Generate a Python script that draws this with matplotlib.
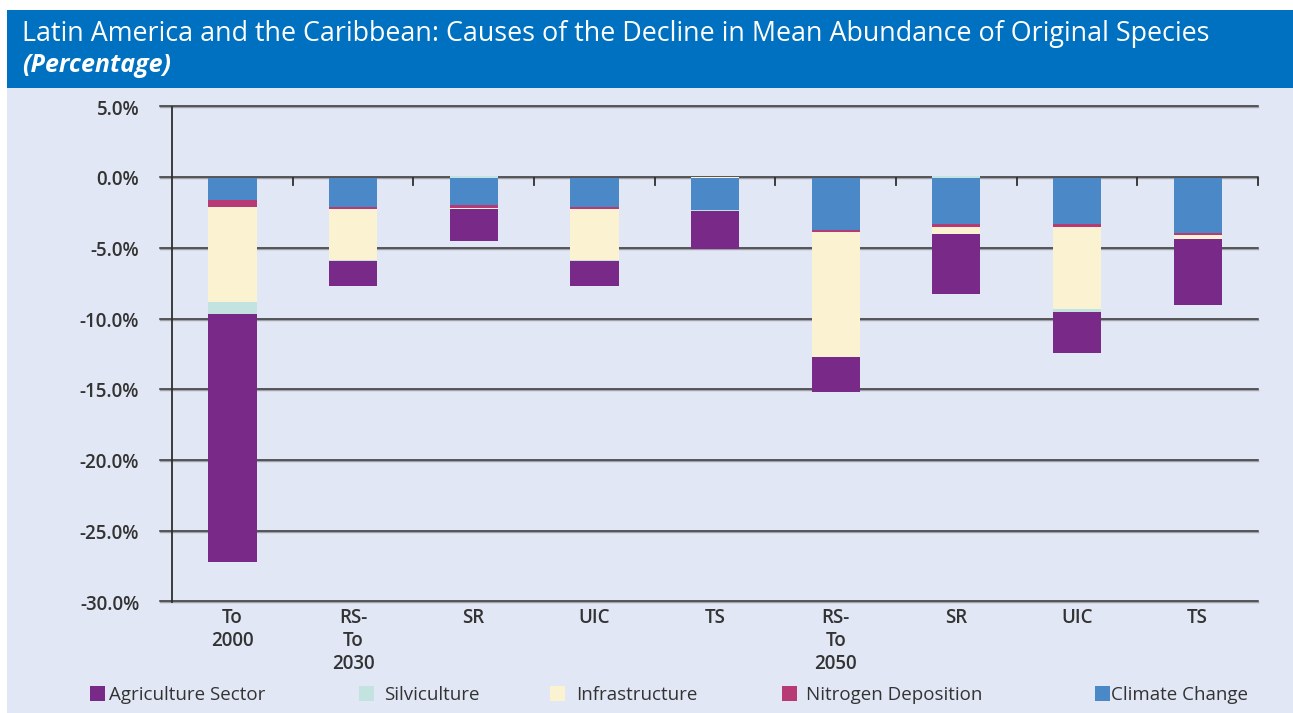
import matplotlib
matplotlib.use('Agg')
import matplotlib.pyplot as plt
from matplotlib.patches import Rectangle
import numpy as np

# Categories and causes of decline (percentage points, negative = loss)
categories = ['To\n2000', 'RS-\nTo\n2030', 'SR', 'UIC', 'TS', 'RS-\nTo\n2050', 'SR', 'UIC', 'TS']
climate_change = [-1.6, -2.05, -1.95, -2.05, -2.25, -3.7, -3.3, -3.25, -3.9]
nitrogen_deposition = [-0.5, -0.15, -0.2, -0.15, 0.0, -0.15, -0.2, -0.2, -0.15]
infrastructure = [-6.7, -3.6, -0.05, -3.6, 0.05, -8.85, -0.45, -5.85, -0.3]
silviculture = [-0.85, -0.1, 0.1, -0.1, -0.07, 0.0, 0.15, -0.2, 0.0]
agriculture = [-17.5, -1.75, -2.3, -1.75, -2.7, -2.45, -4.25, -2.9, -4.65]
y_ticks = [5, 0, -5, -10, -15, -20, -25, -30]

# stacking order from the zero line outwards
series = [
    ('Climate Change', climate_change, '#4a88c7'),
    ('Nitrogen Deposition', nitrogen_deposition, '#b83a74'),
    ('Infrastructure', infrastructure, '#faf2d0'),
    ('Silviculture', silviculture, '#c2e3e0'),
    ('Agriculture Sector', agriculture, '#792a89'),
]

BG = '#e1e7f4'
HEADER = '#0070c0'
TXT = '#333333'
FONT = 'Open Sans'
plt.rcParams['font.family'] = [FONT, 'DejaVu Sans']

W, H = 1293, 713
fig = plt.figure(figsize=(W / 100, H / 100), dpi=100)
fig.patch.set_facecolor('white')

# panel background and blue header band
fig.patches.append(Rectangle((7 / W, 0), 1 - 7 / W, 1 - 88 / H, transform=fig.transFigure,
                             facecolor=BG, edgecolor='none', zorder=-5))
fig.patches.append(Rectangle((7 / W, 1 - 88 / H), 1 - 7 / W, 78 / H, transform=fig.transFigure,
                             facecolor=HEADER, edgecolor='none', zorder=-5))
fig.text(22 / W, 1 - 41 / H,
         'Latin America and the Caribbean: Causes of the Decline in Mean Abundance of Original Species',
         color='white', fontsize=19.4, weight='medium', va='baseline', ha='left')
fig.text(22 / W, 1 - 72 / H, '(Percentage)', color='white', fontsize=18,
         style='italic', weight='bold', va='baseline', ha='left')

ax = fig.add_axes([160 / W, (H - 602) / H, 1098 / W, 495 / H])
ax.set_facecolor('none')
x = np.arange(len(categories))
ax.set_xlim(-0.6, 8.5)
ax.set_ylim(-30, 5)

# gridlines: dark line with a lighter shadow just below
for yv in y_ticks:
    ax.plot([-0.6, 8.5], [yv - 0.03, yv - 0.03], color='#a0a0a8', lw=1.0, zorder=1, clip_on=False)
    ax.plot([-0.6, 8.5], [yv + 0.04, yv + 0.04], color='#2e2e2e', lw=1.1, zorder=1, clip_on=False)

# stacked bars, negatives below zero, positives above
neg = np.zeros(len(categories))
pos = np.zeros(len(categories))
for name, vals, col in series:
    vals = np.array(vals, dtype=float)
    bottom = np.where(vals < 0, neg, pos)
    ax.bar(x, vals, width=0.4, bottom=bottom, color=col, edgecolor='none', zorder=3)
    neg = neg + np.minimum(vals, 0)
    pos = pos + np.maximum(vals, 0)

# category separators hanging from the zero line
for xv in list(np.arange(0.5, 8.5, 1.0)) + [8.5]:
    ax.plot([xv, xv], [0, -0.55], color='#2e2e2e', lw=1.3, zorder=4, clip_on=False)

# vertical value axis
ax.plot([-0.5, -0.5], [-30, 5], color='#2e2e2e', lw=1.3, zorder=4, clip_on=False)

for s in ax.spines.values():
    s.set_visible(False)
ax.set_yticks(y_ticks)
ax.set_yticklabels(['%.1f%%' % v for v in y_ticks])
ax.set_xticks(x)
ax.set_xticklabels(categories, linespacing=1.2)
ax.tick_params(axis='y', length=0, pad=15, labelsize=13.5, labelcolor=TXT)
ax.tick_params(axis='x', length=0, pad=4, labelsize=13.5, labelcolor=TXT)
for lab in ax.get_xticklabels() + ax.get_yticklabels():
    lab.set_fontweight('semibold')

# legend row: swatch x, text x (pixels)
legend_items = [
    ('Agriculture Sector', '#792a89', 90, 109),
    ('Silviculture', '#c2e3e0', 359, 384),
    ('Infrastructure', '#faf2d0', 550, 576),
    ('Nitrogen Deposition', '#b83a74', 782, 806),
    ('Climate Change', '#4a88c7', 1095, 1111),
]
for name, col, sx, tx in legend_items:
    fig.patches.append(Rectangle((sx / W, 1 - 701 / H), 15 / W, 15 / H, transform=fig.transFigure,
                                 facecolor=col, edgecolor='none', zorder=2))
    fig.text(tx / W, 1 - 695 / H, name, color=TXT, fontsize=13.5, weight='medium',
             va='center', ha='left')

fig.savefig('out.png', dpi=100, facecolor=fig.get_facecolor())
plt.close(fig)
